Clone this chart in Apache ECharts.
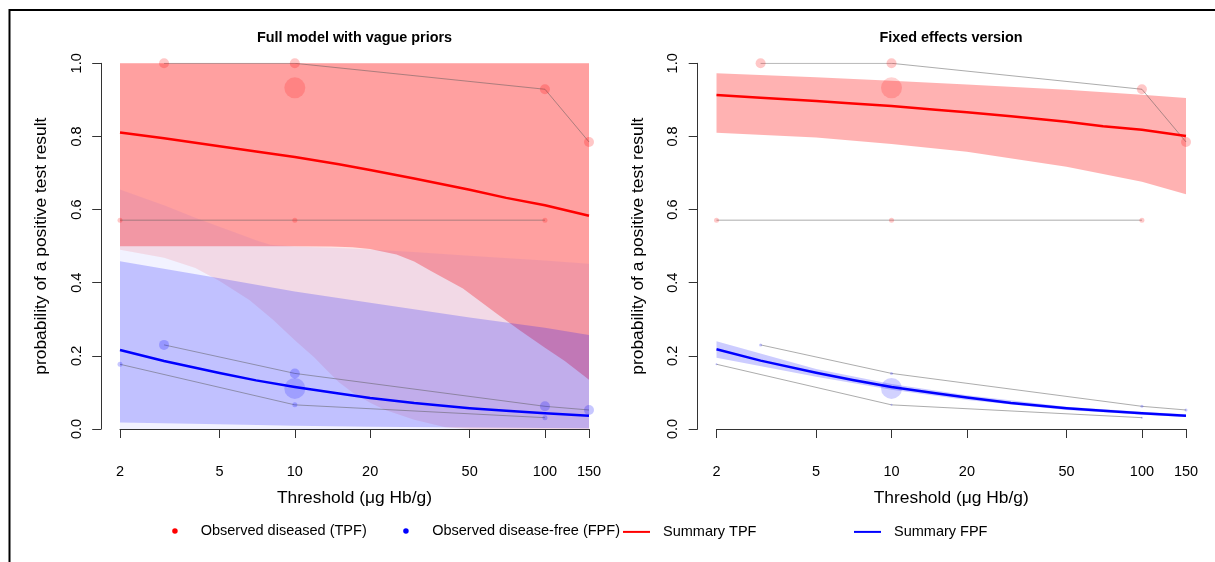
<!DOCTYPE html>
<html>
<head>
<meta charset="utf-8">
<script src="https://cdn.jsdelivr.net/npm/echarts@6/dist/echarts.min.js"></script>
<style>
html,body{margin:0;padding:0;background:#ffffff;}
#chart{width:1215px;height:562px;}
</style>
</head>
<body>
<div id="chart"></div>
<script>
// ---------------- data ----------------
const xTickValues = [2, 5, 10, 20, 50, 100, 150];

// observed studies: thresholds, TPF (diseased), FPF (disease-free)
const studyAThr = [3, 10, 100, 150];
const studyATpf = [1.0, 1.0, 0.929, 0.785];
const studyAFpf = [0.230, 0.152, 0.062, 0.052];
const studyBThr = [2, 10, 100];
const studyBTpf = [0.571, 0.571, 0.571];
const studyBFpf = [0.177, 0.066, 0.031];
const studyCThr = [10];
const studyCTpf = [0.933];
const studyCFpf = [0.111];

// summary curves
const curveX = [2, 3, 5, 7, 10, 15, 20, 30, 50, 70, 100, 150];
const fullTpf = [0.811, 0.795, 0.773, 0.759, 0.744, 0.724, 0.708, 0.685, 0.654, 0.632, 0.612, 0.583];
const fullFpf = [0.216, 0.186, 0.153, 0.133, 0.115, 0.097, 0.085, 0.071, 0.057, 0.050, 0.043, 0.036];
const fixedTpf = [0.913, 0.906, 0.897, 0.890, 0.883, 0.873, 0.866, 0.855, 0.840, 0.828, 0.818, 0.801];
const fixedFpf = [0.218, 0.187, 0.154, 0.134, 0.115, 0.098, 0.086, 0.071, 0.057, 0.050, 0.043, 0.036];

// full model: TPF predictive band (faint)
const fullTpfPiX = [2, 3, 4, 4.65, 5, 6.6, 8.2, 10, 12, 13, 15, 17, 20, 23, 30, 40, 50, 150];
const fullTpfPiLower = [0.490, 0.468, 0.440, 0.416, 0.405, 0.352, 0.298, 0.243, 0.195, 0.170, 0.128, 0.100, 0.072, 0.052, 0.025, 0.005, 0.0, 0.0];
const fullTpfPiUpper = [1, 1, 1, 1, 1, 1, 1, 1, 1, 1, 1, 1, 1, 1, 1, 1, 1, 1];
// full model: TPF credible band
const fullTpfCrX = [2, 10, 14, 17, 20, 25.5, 30, 35, 47, 64, 80, 100, 120, 150];
const fullTpfCrLower = [0.500, 0.500, 0.499, 0.497, 0.492, 0.477, 0.458, 0.432, 0.384, 0.316, 0.268, 0.222, 0.186, 0.135];
const fullTpfCrUpper = [1, 1, 1, 1, 1, 1, 1, 1, 1, 1, 1, 1, 1, 1];
// full model: FPF predictive band (faint)
const fullFpfPiX = [2, 3, 4, 5, 6, 7, 8, 10, 15, 20, 30, 50, 100, 150];
const fullFpfPiUpper = [0.655, 0.612, 0.578, 0.553, 0.533, 0.516, 0.504, 0.499, 0.495, 0.491, 0.484, 0.474, 0.461, 0.452];
const fullFpfPiLower = [0, 0, 0, 0, 0, 0, 0, 0, 0, 0, 0, 0, 0, 0];
// full model: FPF credible band
const fullFpfCrX = [2, 5, 10, 20, 50, 100, 150];
const fullFpfCrUpper = [0.459, 0.412, 0.376, 0.345, 0.305, 0.277, 0.257];
const fullFpfCrLower = [0.018, 0.013, 0.009, 0.006, 0.004, 0.003, 0.002];

// fixed effects bands
const fixedBandX = [2, 5, 10, 20, 50, 100, 150];
const fixedTpfUpper = [0.973, 0.962, 0.952, 0.942, 0.928, 0.914, 0.905];
const fixedTpfLower = [0.810, 0.797, 0.779, 0.758, 0.717, 0.676, 0.642];
const fixedFpfUpper = [0.240, 0.164, 0.123, 0.092, 0.061, 0.047, 0.040];
const fixedFpfLower = [0.195, 0.143, 0.107, 0.079, 0.052, 0.039, 0.033];

// ---------------- helpers ----------------
const FONT = "'Liberation Sans', Arial, Helvetica, sans-serif";
const LEG_TPF = 'Observed diseased (TPF)';
const LEG_FPF = 'Observed disease-free (FPF)';
const LEG_STPF = 'Summary TPF';
const LEG_SFPF = 'Summary FPF';

function pairs(xs, ys) { return xs.map((x, i) => [x, ys[i]]); }

function band(g, xs, lo, hi, color) {
  return {
    type: 'custom', xAxisIndex: g, yAxisIndex: g, silent: true, animation: false,
    data: [[xs[0], lo[0]]],
    renderItem: function (params, api) {
      const pts = [];
      for (let i = 0; i < xs.length; i++) pts.push(api.coord([xs[i], hi[i]]));
      for (let i = xs.length - 1; i >= 0; i--) pts.push(api.coord([xs[i], lo[i]]));
      return { type: 'polygon', shape: { points: pts }, style: { fill: color } };
    }
  };
}

function study(g, name, xs, ys, size, color) {
  return {
    type: 'line', name: name, xAxisIndex: g, yAxisIndex: g, data: pairs(xs, ys),
    symbol: 'circle', symbolSize: size, showSymbol: true, silent: true, animation: false,
    itemStyle: { color: color },
    lineStyle: { color: 'rgba(90,90,90,0.5)', width: 1 }
  };
}

function bigPoint(g, name, xs, ys, color) {
  return {
    type: 'scatter', name: name, xAxisIndex: g, yAxisIndex: g, data: pairs(xs, ys),
    symbol: 'circle', symbolSize: 21, silent: true, animation: false,
    itemStyle: { color: color }
  };
}

function summary(g, name, xs, ys, color) {
  return {
    type: 'line', name: name, xAxisIndex: g, yAxisIndex: g, data: pairs(xs, ys),
    symbol: 'none', smooth: false, silent: true, animation: false,
    itemStyle: { color: color },
    lineStyle: { color: color, width: 2.5, join: 'round' }
  };
}

function xAxisFor(g) {
  return {
    type: 'log', logBase: 10, min: 2, max: 150, gridIndex: g, offset: 14.5,
    axisLine: { show: true, lineStyle: { color: '#333', width: 1 } },
    axisTick: { show: true, length: 9, customValues: xTickValues, lineStyle: { color: '#333', width: 1 } },
    minorTick: { show: false },
    axisLabel: { customValues: xTickValues, margin: 21, fontSize: 14.5, color: '#000', fontFamily: FONT },
    splitLine: { show: false },
    name: 'Threshold (μg Hb/g)', nameLocation: 'middle', nameGap: 46,
    nameTextStyle: { fontSize: 17.4, color: '#000', fontFamily: FONT }
  };
}

function yAxisFor(g) {
  return {
    type: 'value', min: 0, max: 1, interval: 0.2, gridIndex: g, offset: 18.8,
    axisLine: { show: true, lineStyle: { color: '#333', width: 1 } },
    axisTick: { show: true, length: 9, lineStyle: { color: '#333', width: 1 } },
    axisLabel: { rotate: 90, margin: 17, fontSize: 14.5, color: '#000', fontFamily: FONT,
      formatter: v => v.toFixed(1) },
    splitLine: { show: false },
    name: 'probability of a positive test result', nameLocation: 'middle', nameGap: 51,
    nameTextStyle: { fontSize: 17.4, color: '#000', fontFamily: FONT }
  };
}

const RED_PT = 'rgba(255,0,0,0.22)';
const BLUE_PT = 'rgba(0,0,255,0.22)';

const series = [
  // ---- left panel bands ----
  band(0, fullTpfPiX, fullTpfPiLower, fullTpfPiUpper, 'rgba(255,0,0,0.10)'),
  band(0, fullTpfCrX, fullTpfCrLower, fullTpfCrUpper, 'rgba(255,0,0,0.30)'),
  band(0, fullFpfPiX, fullFpfPiLower, fullFpfPiUpper, 'rgba(0,0,255,0.05)'),
  band(0, fullFpfCrX, fullFpfCrLower, fullFpfCrUpper, 'rgba(0,0,255,0.20)'),
  // ---- left panel observed ----
  study(0, LEG_TPF, studyAThr, studyATpf, 10, RED_PT),
  study(0, LEG_TPF, studyBThr, studyBTpf, 5, RED_PT),
  bigPoint(0, LEG_TPF, studyCThr, studyCTpf, RED_PT),
  study(0, LEG_FPF, studyAThr, studyAFpf, 10, BLUE_PT),
  study(0, LEG_FPF, studyBThr, studyBFpf, 5, BLUE_PT),
  bigPoint(0, LEG_FPF, studyCThr, studyCFpf, BLUE_PT),
  summary(0, LEG_STPF, curveX, fullTpf, '#FF0000'),
  summary(0, LEG_SFPF, curveX, fullFpf, '#0000FF'),
  // ---- right panel bands ----
  band(1, fixedBandX, fixedTpfLower, fixedTpfUpper, 'rgba(255,0,0,0.30)'),
  band(1, fixedBandX, fixedFpfLower, fixedFpfUpper, 'rgba(0,0,255,0.20)'),
  // ---- right panel observed ----
  study(1, LEG_TPF, studyAThr, studyATpf, 10, RED_PT),
  study(1, LEG_TPF, studyBThr, studyBTpf, 5, RED_PT),
  bigPoint(1, LEG_TPF, studyCThr, studyCTpf, RED_PT),
  study(1, LEG_FPF, studyAThr, studyAFpf, 3, BLUE_PT),
  study(1, LEG_FPF, studyBThr, studyBFpf, 2, BLUE_PT),
  bigPoint(1, LEG_FPF, studyCThr, studyCFpf, BLUE_PT),
  summary(1, LEG_STPF, curveX, fixedTpf, '#FF0000'),
  summary(1, LEG_SFPF, curveX, fixedFpf, '#0000FF')
];

function legendFor(name, left, top, w, h, icon, color, pad) {
  return {
    left: left, top: top, padding: 0, itemWidth: w, itemHeight: h, selectedMode: false,
    data: [{ name: name, icon: icon, itemStyle: { color: color, opacity: 1, borderWidth: 0 } }],
    textStyle: { fontSize: 14.5, color: '#000', fontFamily: FONT, padding: [0, 0, 0, pad] }
  };
}

const option = {
  animation: false,
  backgroundColor: '#ffffff',
  textStyle: { fontFamily: FONT },
  title: [
    { text: 'Full model with vague priors', left: 354.5, top: 31.5, padding: 0, textAlign: 'center',
      textStyle: { fontSize: 14.4, fontWeight: 'bold', color: '#000', fontFamily: FONT } },
    { text: 'Fixed effects version', left: 951, top: 31.5, padding: 0, textAlign: 'center',
      textStyle: { fontSize: 14.4, fontWeight: 'bold', color: '#000', fontFamily: FONT } }
  ],
  grid: [
    { left: 120, top: 63.3, width: 469, height: 365.7, containLabel: false, outerBoundsMode: 'none' },
    { left: 716.5, top: 63.3, width: 469.5, height: 365.7, containLabel: false, outerBoundsMode: 'none' }
  ],
  xAxis: [xAxisFor(0), xAxisFor(1)],
  yAxis: [yAxisFor(0), yAxisFor(1)],
  legend: [
    legendFor(LEG_TPF, 172.2, 523.5, 5.5, 5.5, 'circle', '#FF0000', 18),
    legendFor(LEG_FPF, 403.2, 523.5, 5.5, 5.5, 'circle', '#0000FF', 18.5),
    legendFor(LEG_STPF, 623, 524.4, 27, 2, 'rect', '#FF0000', 8),
    legendFor(LEG_SFPF, 854, 524.4, 27, 2, 'rect', '#0000FF', 8)
  ],
  graphic: [
    { type: 'rect', silent: true, z: 100,
      shape: { x: 9.5, y: 10, width: 1300, height: 700 },
      style: { fill: 'none', stroke: '#000', lineWidth: 2 } }
  ],
  series: series
};

const chart = echarts.init(document.getElementById('chart'), null, { renderer: 'canvas' });
chart.setOption(option);
</script>
</body>
</html>
